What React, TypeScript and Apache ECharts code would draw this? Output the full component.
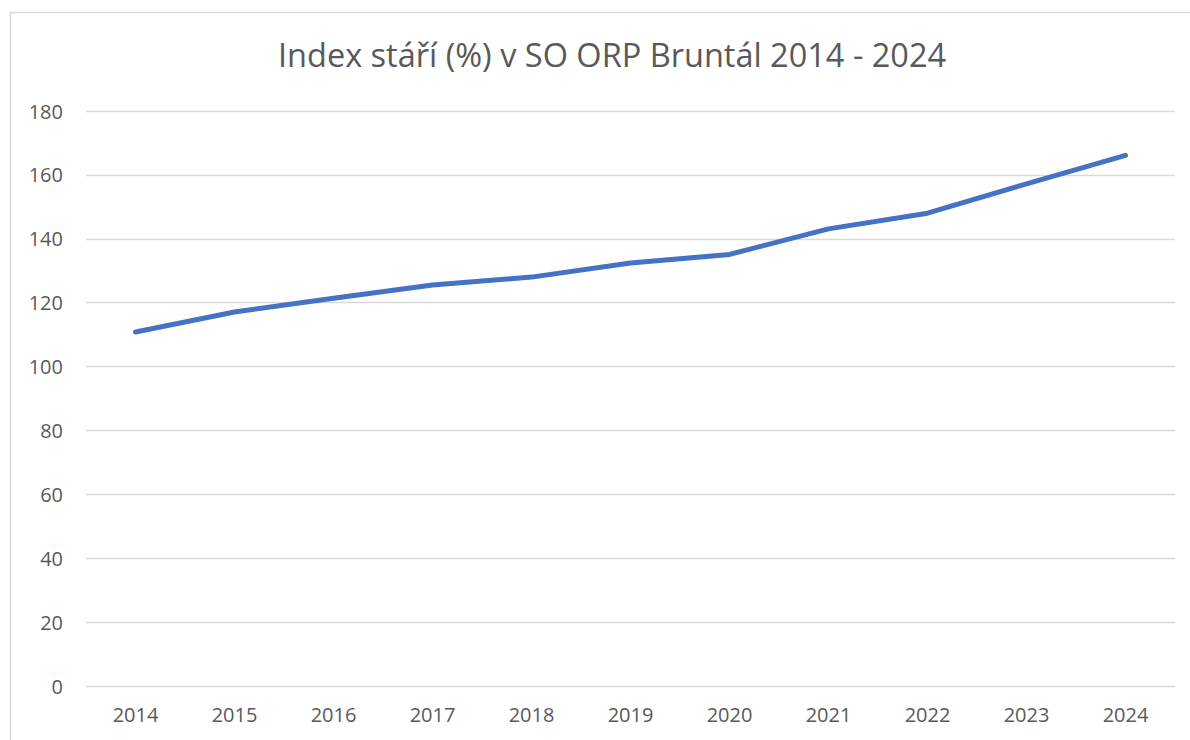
import React, { useEffect, useRef } from "react";
import * as echarts from "echarts";

const titleText = "Index stáří (%) v SO ORP Bruntál 2014 - 2024";
const years = ["2014", "2015", "2016", "2017", "2018", "2019", "2020", "2021", "2022", "2023", "2024"];
const values = [110.8, 117.1, 121.4, 125.5, 128.0, 132.4, 135.1, 143.1, 148.0, 157.2, 166.1];
const yMin = 0;
const yMax = 180;
const yStep = 20;

export default function App() {
  const ref = useRef<HTMLDivElement>(null);
  useEffect(() => {
    document.body.style.margin = "0";
    const chart = echarts.init(ref.current!, null, { renderer: "svg" });
    chart.setOption({
      animation: false,
      backgroundColor: "#ffffff",
      textStyle: { fontFamily: "'Open Sans', 'Noto Sans', sans-serif" },
      title: {
        text: titleText,
        left: 273,
        top: 33,
        textStyle: { fontSize: 32.5, fontWeight: "normal", color: "#595959", fontFamily: "'Open Sans', sans-serif" },
      },
      graphic: [
        {
          type: "rect",
          shape: { x: 10.5, y: 12.5, width: 1300, height: 900 },
          style: { fill: "none", stroke: "#d9d9d9", lineWidth: 1.5 },
          silent: true,
          z: -1,
        },
      ],
      grid: { left: 86, right: 15, top: 111, bottom: 54, containLabel: false },
      xAxis: {
        type: "category",
        data: years,
        boundaryGap: true,
        axisLine: { show: false },
        axisTick: { show: false },
        axisLabel: { color: "#595959", fontSize: 20, margin: 18 },
      },
      yAxis: {
        type: "value",
        min: yMin,
        max: yMax,
        interval: yStep,
        axisLine: { show: false },
        axisTick: { show: false },
        axisLabel: { color: "#595959", fontSize: 20, margin: 23 },
        splitLine: { lineStyle: { color: "#d9d9d9", width: 1.3 } },
      },
      series: [
        {
          type: "line",
          data: values,
          symbol: "none",
          lineStyle: { color: "#4472C4", width: 5, cap: "round", join: "round" },
        },
      ],
    });
    return () => chart.dispose();
  }, []);
  return <div ref={ref} style={{ width: 1190, height: 740 }} />;
}
